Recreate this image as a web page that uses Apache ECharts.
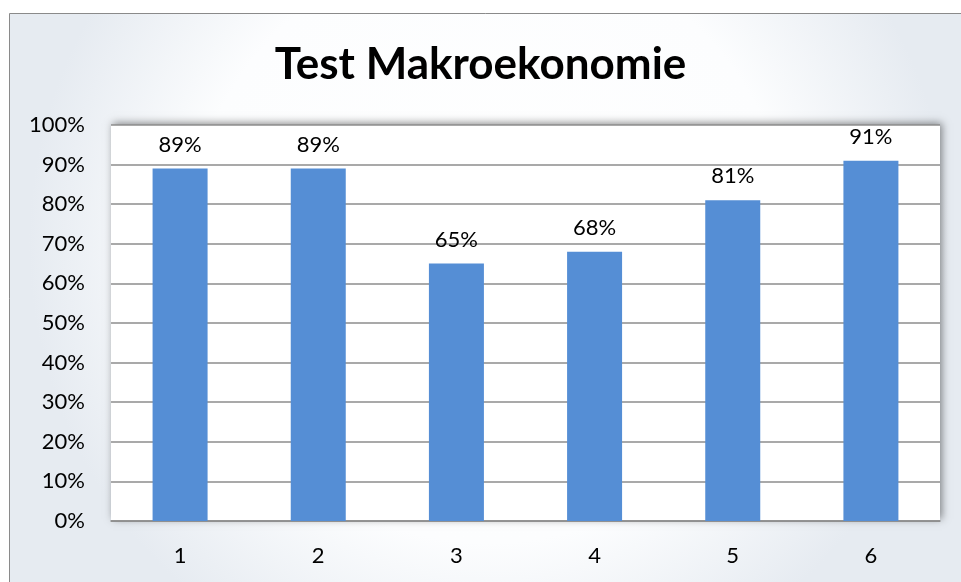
<!DOCTYPE html>
<html>
<head>
<meta charset="utf-8">
<style>
  html, body { margin: 0; padding: 0; background: #ffffff; }
  #chart { width: 961px; height: 582px; }
</style>
<script src="https://cdn.jsdelivr.net/npm/echarts@6/dist/echarts.min.js"></script>
</head>
<body>
<div id="chart"></div>
<script>
// Test results per question, in percent
const categories = ['1', '2', '3', '4', '5', '6'];
const scores = [89, 89, 65, 68, 81, 91];
const titleText = 'Test Makroekonomie';

const FONT = 'Lato, "Open Sans", sans-serif';

const chart = echarts.init(document.getElementById('chart'), null, { renderer: 'canvas' });

chart.setOption({
  animation: false,
  backgroundColor: 'transparent',
  graphic: [
    {
      type: 'rect',
      z: -10,
      silent: true,
      shape: { x: 9.5, y: 13.5, width: 960, height: 575 },
      style: {
        fill: {
          type: 'radial', x: 0.5, y: 0.4, r: 0.8,
          colorStops: [
            { offset: 0, color: '#ffffff' },
            { offset: 0.65, color: '#fcfdfe' },
            { offset: 1, color: '#e6ebf1' }
          ]
        },
        stroke: '#8a8a8a',
        lineWidth: 1
      }
    }
  ],
  title: {
    text: titleText,
    left: 'center',
    top: 38,
    textStyle: { fontFamily: FONT, fontWeight: 'bold', fontSize: 44, color: '#000000' }
  },
  grid: {
    left: 111,
    right: 21,
    top: 125,
    bottom: 61,
    show: true,
    backgroundColor: '#ffffff',
    borderWidth: 0,
    shadowColor: 'rgba(0,0,0,0.45)',
    shadowBlur: 8,
    shadowOffsetX: 2,
    shadowOffsetY: -2
  },
  xAxis: {
    type: 'category',
    data: categories,
    axisTick: { show: false },
    axisLine: { show: true, lineStyle: { color: '#8c8c8c', width: 1.5 } },
    axisLabel: { margin: 24, fontFamily: FONT, fontSize: 22, color: '#000000' }
  },
  yAxis: {
    type: 'value',
    min: 0,
    max: 100,
    interval: 10,
    axisLine: { show: false },
    axisTick: { show: false },
    splitLine: { lineStyle: { color: '#8c8c8c', width: 1.5 } },
    axisLabel: { margin: 26, formatter: '{value}%', fontFamily: FONT, fontSize: 22, color: '#000000' }
  },
  series: [
    {
      type: 'bar',
      data: scores,
      barWidth: 55,
      itemStyle: { color: '#558ed5' },
      label: {
        show: true,
        position: 'top',
        distance: 13,
        formatter: '{c}%',
        fontFamily: FONT,
        fontSize: 22,
        color: '#000000'
      }
    }
  ]
});
</script>
</body>
</html>
